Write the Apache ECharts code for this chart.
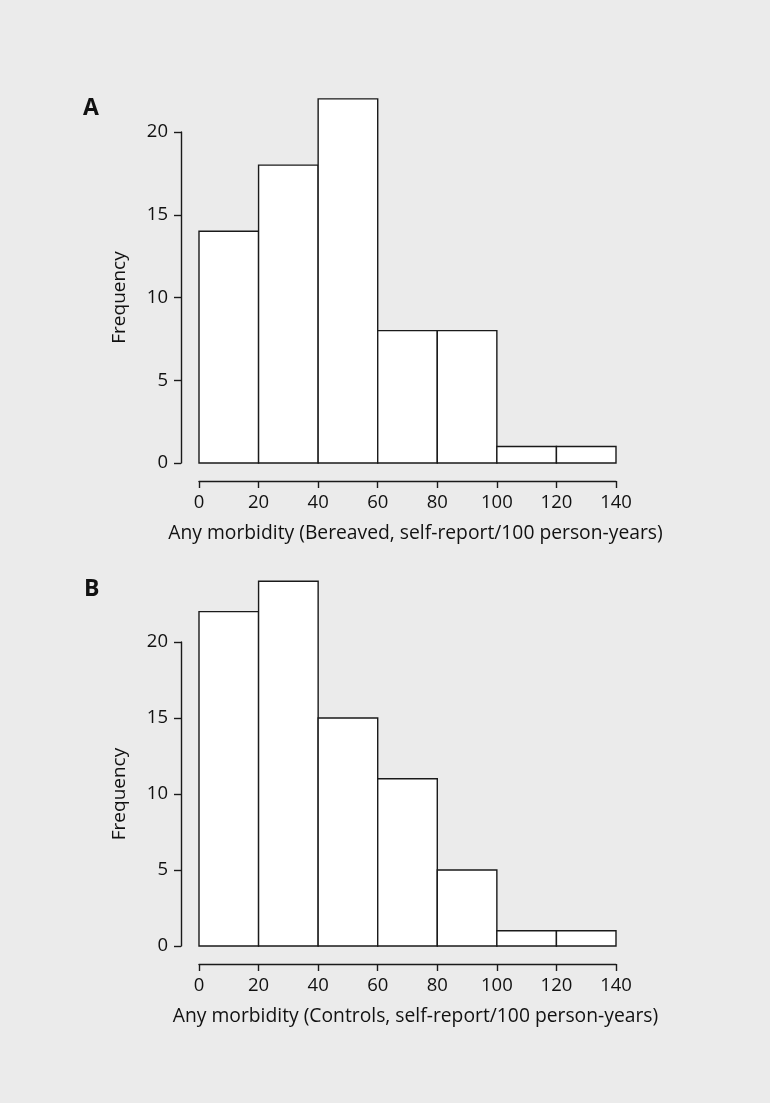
<!DOCTYPE html>
<html><head><meta charset="utf-8">
<script src="https://cdn.jsdelivr.net/npm/echarts@6/dist/echarts.min.js"></script>
<style>html,body{margin:0;padding:0;background:#ebebeb}#c{width:770px;height:1103px}</style>
</head><body><div id="c"></div>
<script>
const binEdges = [0, 20, 40, 60, 80, 100, 120, 140];
const bereavedCounts = [14, 18, 22, 8, 8, 1, 1];
const controlCounts = [22, 24, 15, 11, 5, 1, 1];
const xTicks = [0, 20, 40, 60, 80, 100, 120, 140];
const yTicks = [0, 5, 10, 15, 20];
const xNameA = 'Any morbidity (Bereaved, self-report/100 person-years)';
const xNameB = 'Any morbidity (Controls, self-report/100 person-years)';
const yName = 'Frequency';

function toData(counts){ return counts.map((c,i)=>[binEdges[i], binEdges[i+1], c]); }
const font = 'Open Sans';
const axisCol = '#1a1a1a';
function xAx(idx, name){
  return {type:'value', gridIndex:idx, min:xTicks[0], max:xTicks[xTicks.length-1], interval:20,
    offset:18, name:name, nameLocation:'middle', nameGap:43,
    nameTextStyle:{fontFamily:font, fontSize:19.3, color:'#111', padding:[0,0,0,16]},
    axisLine:{show:true, onZero:false, lineStyle:{color:axisCol, width:1.4}},
    axisTick:{show:true, length:7, lineStyle:{color:axisCol, width:1.4}},
    axisLabel:{fontFamily:font, fontSize:18.5, color:'#111', margin:12},
    splitLine:{show:false}};
}
function yAx(idx){
  return {type:'value', gridIndex:idx, min:yTicks[0], max:yTicks[yTicks.length-1], interval:5,
    offset:18, name:yName, nameLocation:'middle', nameGap:52,
    nameTextStyle:{fontFamily:font, fontSize:19, color:'#111'},
    axisLine:{show:true, onZero:false, lineStyle:{color:axisCol, width:1.4}},
    axisTick:{show:true, length:7, lineStyle:{color:axisCol, width:1.4}},
    axisLabel:{fontFamily:font, fontSize:18.5, color:'#111', margin:13},
    splitLine:{show:false}};
}
function renderItem(params, api){
  const p0 = api.coord([api.value(0), 0]);
  const p1 = api.coord([api.value(1), api.value(2)]);
  return {type:'rect', shape:{x:p0[0], y:p1[1], width:p1[0]-p0[0], height:p0[1]-p1[1]},
    style:{fill:'#ffffff', stroke:'#1a1a1a', lineWidth:1.4}};
}
const chart = echarts.init(document.getElementById('c'));
chart.setOption({
  backgroundColor:'#ebebeb',
  animation:false,
  title:[
    {text:'A', left:78, top:92, textStyle:{fontFamily:font, fontSize:23, fontWeight:'bold', color:'#111'}},
    {text:'B', left:79, top:573, textStyle:{fontFamily:font, fontSize:23, fontWeight:'bold', color:'#111'}}
  ],
  grid:[
    {left:199, width:417, top:132, height:331},
    {left:199, width:417, top:642, height:304}
  ],
  xAxis:[xAx(0, xNameA), xAx(1, xNameB)],
  yAxis:[yAx(0), yAx(1)],
  series:[
    {type:'custom', xAxisIndex:0, yAxisIndex:0, clip:false, renderItem:renderItem, data:toData(bereavedCounts), encode:{x:[0,1], y:2}},
    {type:'custom', xAxisIndex:1, yAxisIndex:1, clip:false, renderItem:renderItem, data:toData(controlCounts), encode:{x:[0,1], y:2}}
  ]
});
</script></body></html>
